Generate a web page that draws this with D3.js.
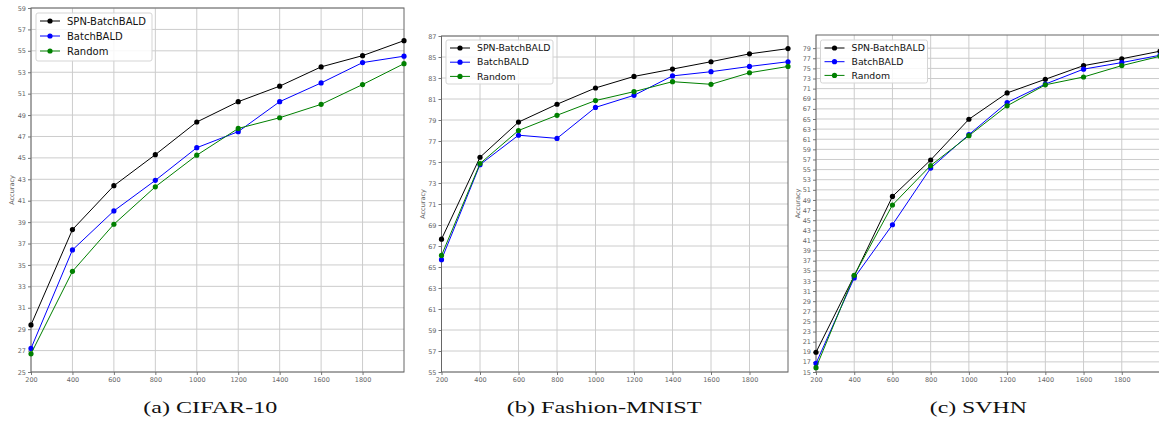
<!DOCTYPE html>
<html><head><meta charset="utf-8">
<script src="https://cdn.jsdelivr.net/npm/d3@7"></script>
<style>body{margin:0;background:#fff;}svg{display:block;}</style>
</head><body>
<svg id="c" width="1159" height="421"></svg>
<script>
// ---- data ----
const budgets = [200, 400, 600, 800, 1000, 1200, 1400, 1600, 1800, 2000];
const xTickLabels = [200, 400, 600, 800, 1000, 1200, 1400, 1600, 1800];
const seriesNames = ["SPN-BatchBALD", "BatchBALD", "Random"];
const seriesColors = ["#000000", "#0000ff", "#008000"];

const cifarSPN    = [29.4, 38.3, 42.4, 45.3, 48.35, 50.25, 51.7, 53.5, 54.55, 55.95];
const cifarBatch  = [27.2, 36.4, 40.05, 42.9, 45.95, 47.45, 50.25, 52.0, 53.9, 54.5];
const cifarRandom = [26.7, 34.4, 38.8, 42.3, 45.25, 47.75, 48.75, 50.0, 51.85, 53.8];

const fmnistSPN    = [67.65, 75.45, 78.8, 80.5, 82.05, 83.15, 83.85, 84.55, 85.3, 85.8];
const fmnistBatch  = [65.7, 74.75, 77.55, 77.25, 80.2, 81.35, 83.2, 83.6, 84.1, 84.55];
const fmnistRandom = [66.1, 74.85, 78.0, 79.45, 80.85, 81.7, 82.65, 82.4, 83.5, 84.1];

const svhnSPN    = [18.9, 34.0, 49.7, 56.9, 64.95, 70.15, 72.85, 75.55, 76.9, 78.4];
const svhnBatch  = [16.7, 33.6, 44.1, 55.3, 61.9, 68.25, 71.9, 74.85, 76.15, 77.6];
const svhnRandom = [15.85, 34.1, 48.0, 55.8, 61.7, 67.6, 71.75, 73.3, 75.55, 77.4];

const cifarYTicks  = d3.range(25, 60, 2);
const fmnistYTicks = d3.range(55, 88, 2);
const svhnYTicks   = d3.range(15, 80, 2);
const captions = ["(a) CIFAR-10", "(b) Fashion-MNIST", "(c) SVHN"];
const yLabel = "Accuracy";

// ---- layout ----
const panels = [
  {series:[cifarSPN, cifarBatch, cifarRandom], yDomain:[25,59], yTicks:cifarYTicks,
   left:31, right:404, top:8, bottom:372, legend:{x:36, y:13, w:116, h:48, fs:10, dy:15},
   capX:210.3, capW:134, labX:12},
  {series:[fmnistSPN, fmnistBatch, fmnistRandom], yDomain:[55,87], yTicks:fmnistYTicks,
   left:441.5, right:788, top:36, bottom:372, legend:{x:446, y:40, w:107, h:44, fs:9.3, dy:14.2},
   capX:604.2, capW:195, labX:423},
  {series:[svhnSPN, svhnBatch, svhnRandom], yDomain:[15,81.6], yTicks:svhnYTicks,
   left:816, right:1160, top:35, bottom:372, legend:{x:820.5, y:40, w:107, h:43, fs:9.3, dy:13.7},
   capX:978.3, capW:97, labX:798}
];

const svg = d3.select("#c");

panels.forEach((p, pi) => {
  const x = d3.scaleLinear().domain([200, 2000]).range([p.left, p.right]);
  const y = d3.scaleLinear().domain(p.yDomain).range([p.bottom, p.top]);
  const g = svg.append("g");

  // grid
  g.append("g").selectAll("line").data(xTickLabels).join("line")
    .attr("x1", d => x(d)).attr("x2", d => x(d))
    .attr("y1", p.top).attr("y2", p.bottom)
    .attr("stroke", "#cccccc").attr("stroke-width", 1);
  g.append("g").selectAll("line").data(p.yTicks).join("line")
    .attr("x1", p.left).attr("x2", p.right)
    .attr("y1", d => y(d)).attr("y2", d => y(d))
    .attr("stroke", "#cccccc").attr("stroke-width", 1);

  // axes
  const xAxis = d3.axisBottom(x).tickValues(xTickLabels).tickSize(3).tickPadding(2).tickFormat(d3.format("d"));
  const yAxis = d3.axisLeft(y).tickValues(p.yTicks).tickSize(3).tickPadding(2).tickFormat(d3.format("d"));
  const gx = g.append("g").attr("transform", `translate(0,${p.bottom})`).call(xAxis);
  const gy = g.append("g").attr("transform", `translate(${p.left},0)`).call(yAxis);
  [gx, gy].forEach(a => {
    a.select(".domain").remove();
    a.selectAll(".tick line").attr("stroke", "#777");
    a.selectAll(".tick text").attr("fill", "#666").style("font-family", "DejaVu Sans").style("font-size", "6.5px");
  });

  // frame
  g.append("rect").attr("x", p.left).attr("y", p.top)
    .attr("width", p.right - p.left).attr("height", p.bottom - p.top)
    .attr("fill", "none").attr("stroke", "#666").attr("stroke-width", 1);

  // y label
  g.append("text").attr("transform", `translate(${p.labX},${(p.top + p.bottom) / 2}) rotate(-90)`)
    .attr("text-anchor", "middle").attr("dy", "0.35em")
    .attr("fill", "#666").style("font-family", "DejaVu Sans").style("font-size", "6.5px")
    .text(yLabel);

  // lines
  const line = d3.line().x((d, i) => x(budgets[i])).y(d => y(d));
  p.series.forEach((s, si) => {
    g.append("path").datum(s).attr("d", line)
      .attr("fill", "none").attr("stroke", seriesColors[si]).attr("stroke-width", 1);
    g.append("g").selectAll("circle").data(s).join("circle")
      .attr("cx", (d, i) => x(budgets[i])).attr("cy", d => y(d)).attr("r", 2.6)
      .attr("fill", seriesColors[si]);
  });

  // legend
  const L = p.legend;
  const lg = g.append("g");
  lg.append("rect").attr("x", L.x).attr("y", L.y).attr("width", L.w).attr("height", L.h)
    .attr("rx", 2).attr("fill", "rgba(255,255,255,0.85)").attr("stroke", "#d5d5d5").attr("stroke-width", 1);
  seriesNames.forEach((n, si) => {
    const cy = L.y + 8 + si * L.dy;
    lg.append("line").attr("x1", L.x + 4).attr("x2", L.x + 24).attr("y1", cy).attr("y2", cy)
      .attr("stroke", seriesColors[si]).attr("stroke-width", 1);
    lg.append("circle").attr("cx", L.x + 14).attr("cy", cy).attr("r", 2.6).attr("fill", seriesColors[si]);
    lg.append("text").attr("x", L.x + 31).attr("y", cy).attr("dy", "0.35em")
      .style("font-family", "DejaVu Sans").style("font-size", L.fs + "px").attr("fill", "#111")
      .text(n);
  });

  // caption
  svg.append("text").attr("x", p.capX).attr("y", 413).attr("text-anchor", "middle")
    .attr("textLength", p.capW).attr("lengthAdjust", "spacingAndGlyphs")
    .style("font-family", "Liberation Serif").style("font-size", "17.5px").attr("fill", "#111")
    .text(captions[pi]);
});
</script>
</body></html>
